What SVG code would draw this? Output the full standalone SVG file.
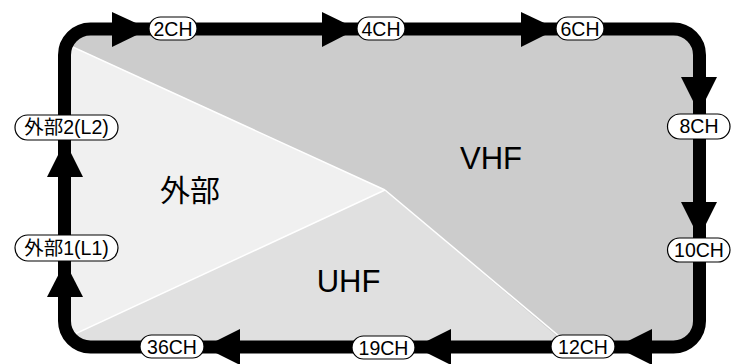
<svg xmlns="http://www.w3.org/2000/svg" width="731" height="364" viewBox="0 0 731 364">
<style>
.lbl rect{fill:#fff;stroke:#000;stroke-width:1.2}
.lbl text{font-family:"Liberation Sans","Noto Sans CJK JP",sans-serif;font-size:19.5px;text-anchor:middle;fill:#000}
.big{font-family:"Liberation Sans","Noto Sans CJK JP",sans-serif;font-size:31px;text-anchor:middle;fill:#000}
.arr{fill:#000}
.div{stroke:#fff;stroke-width:1.5;fill:none}
</style>
<defs>
<clipPath id="inner"><rect x="64.5" y="29" width="635" height="318" rx="26"/></clipPath>
</defs>
<rect width="731" height="364" fill="#fff"/>
<g id="regions" clip-path="url(#inner)">
<rect id="vhf-area" x="60" y="25" width="645" height="330" fill="#cccccc"/>
<polygon id="ext-area" points="385,190 56,39 56,343" fill="#f0f0f0"/>
<polygon id="uhf-area" points="385,190 56,343 56,356 580,356" fill="#e0e0e0"/>
<line class="div" x1="385" y1="190" x2="64" y2="43"/>
<line class="div" x1="385" y1="190" x2="64" y2="339"/>
<line class="div" x1="385" y1="190" x2="572" y2="347"/>
</g>
<g id="region-labels">
<text class="big" x="491" y="169">VHF</text>
<text class="big" x="190" y="201" style="font-size:30px">外部</text>
<text class="big" x="348.5" y="292">UHF</text>
</g>
<g id="connectors">
<rect x="64.5" y="29" width="635" height="318" rx="26" fill="none" stroke="#000" stroke-width="13"/>
<polygon class="arr" points="112,12 112,47 149,29"/>
<polygon class="arr" points="322,12 322,47 357,29"/>
<polygon class="arr" points="521,12 521,47 557,29"/>
<polygon class="arr" points="681,77 717,77 699,113"/>
<polygon class="arr" points="681,202 717,202 699,238"/>
<polygon class="arr" points="652,329 652,365 616,347"/>
<polygon class="arr" points="451,329 451,365 415,347"/>
<polygon class="arr" points="240,329 240,365 204,347"/>
<polygon class="arr" points="47,297 83,297 65,262"/>
<polygon class="arr" points="47,177 83,177 65,141"/>
</g>
<g id="n-2ch" class="lbl"><rect x="149" y="17" width="48" height="23" rx="11.5"/><text x="173" y="36">2CH</text></g>
<g id="n-4ch" class="lbl"><rect x="357" y="17" width="48" height="23" rx="11.5"/><text x="381" y="36">4CH</text></g>
<g id="n-6ch" class="lbl"><rect x="556" y="17" width="48" height="23" rx="11.5"/><text x="580" y="36">6CH</text></g>
<g id="n-8ch" class="lbl"><rect x="667.5" y="114" width="62.5" height="25" rx="12.5"/><text x="699" y="133">8CH</text></g>
<g id="n-10ch" class="lbl"><rect x="667.5" y="238" width="62.5" height="24" rx="12"/><text x="699" y="257">10CH</text></g>
<g id="n-12ch" class="lbl"><rect x="551" y="335" width="64" height="23" rx="11.5"/><text x="583" y="354">12CH</text></g>
<g id="n-19ch" class="lbl"><rect x="352" y="336" width="63" height="23" rx="11.5"/><text x="383.5" y="355">19CH</text></g>
<g id="n-36ch" class="lbl"><rect x="140" y="335" width="64" height="23" rx="11.5"/><text x="172" y="354">36CH</text></g>
<g id="n-ext1" class="lbl"><rect x="15" y="235" width="103" height="26" rx="13"/><text x="66.5" y="255">外部1(L1)</text></g>
<g id="n-ext2" class="lbl"><rect x="15" y="115" width="103" height="25" rx="12.5"/><text x="66.5" y="134">外部2(L2)</text></g>
</svg>
